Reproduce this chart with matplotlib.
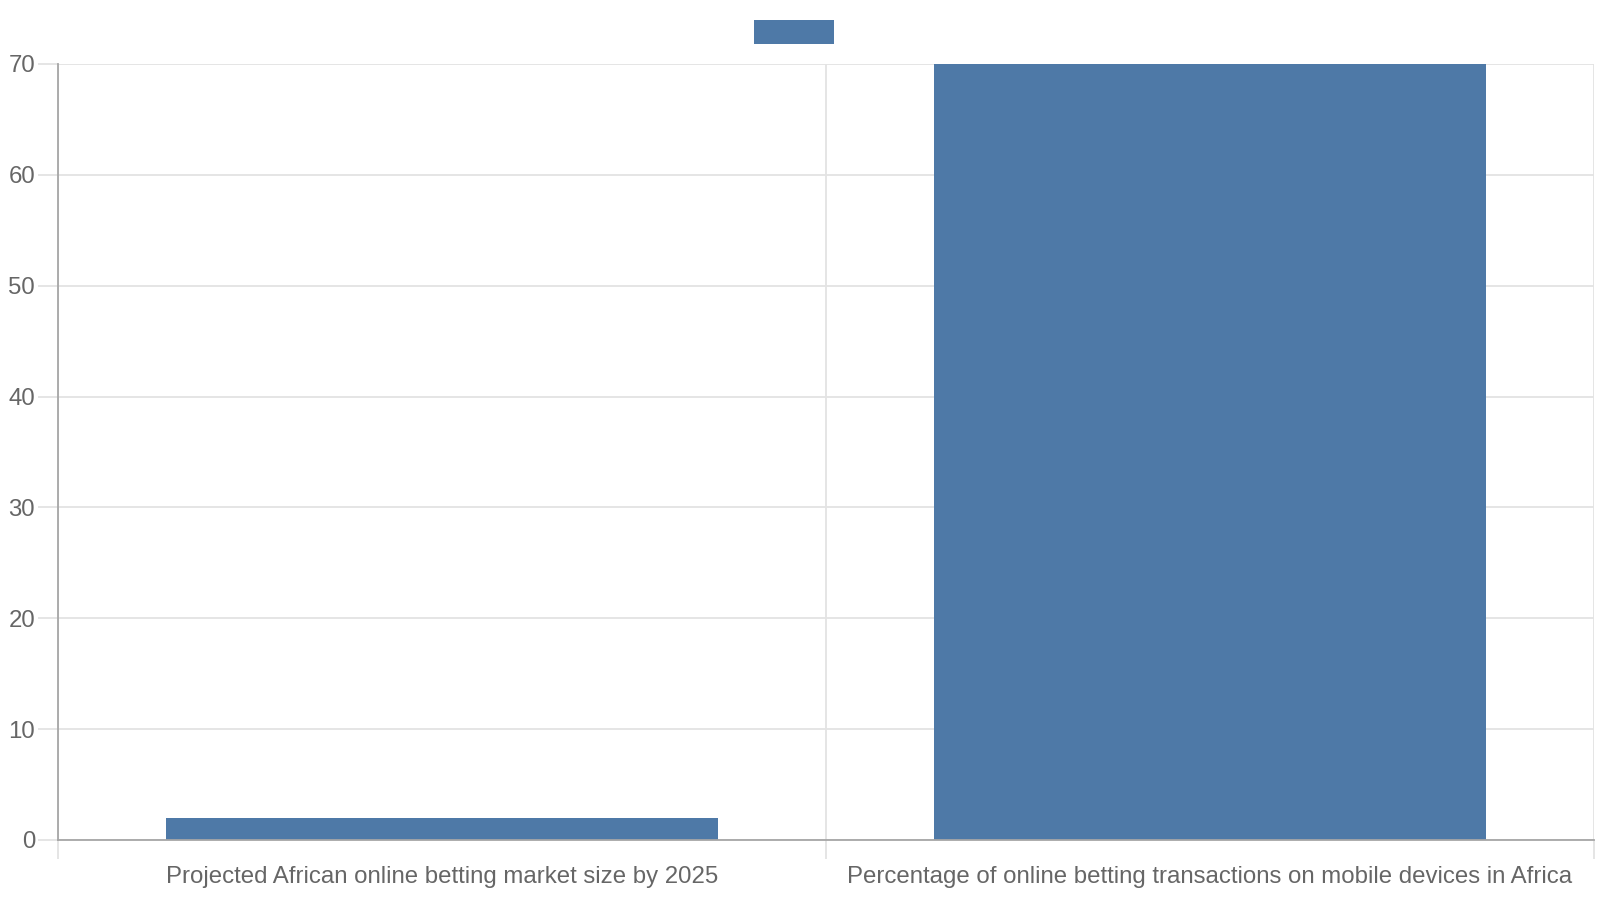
import matplotlib
matplotlib.use("Agg")
import matplotlib.pyplot as plt
from matplotlib.patches import Rectangle

categories = ["Projected African online betting market size by 2025",
              "Percentage of online betting transactions on mobile devices in Africa"]
values = [2, 70]
yticks = [0, 10, 20, 30, 40, 50, 60, 70]

BAR = "#4e79a7"
GRID = "#e3e3e3"
AXIS = "#a6a6a6"
TXT = "#666666"

plt.rcParams['font.family'] = ['Liberation Sans', 'DejaVu Sans']

fig = plt.figure(figsize=(16, 9), dpi=100)
ax = fig.add_axes([58/1600, 60/900, (1594-58)/1600, (840-64)/900])

x = list(range(len(categories)))
ax.bar(x, values, width=0.72, color=BAR, zorder=2)

ax.set_xlim(-0.5, len(categories) - 0.5)
ax.set_ylim(0, 70)
ax.set_yticks(yticks)
ax.set_xticks(x)
ax.set_xticklabels(categories)
ax.set_xticks([i - 0.5 for i in range(len(categories) + 1)], minor=True)

ax.set_axisbelow(True)
ax.grid(axis='y', color=GRID, linewidth=1.3)
ax.grid(axis='x', which='minor', color=GRID, linewidth=1.3)

ax.tick_params(axis='y', length=14.4, width=1.3, color=GRID, labelcolor=TXT,
               labelsize=17.3, pad=2)
ax.tick_params(axis='x', which='major', length=0, labelcolor=TXT,
               labelsize=17.3, pad=18.5)
ax.tick_params(axis='x', which='minor', length=14, width=1.3, color=GRID)

for s in ['top', 'right']:
    ax.spines[s].set_visible(False)
for s in ['left', 'bottom']:
    ax.spines[s].set_color(AXIS)
    ax.spines[s].set_linewidth(1.3)
    ax.spines[s].set_zorder(3)

# legend swatch (dataset has no label)
fig.patches.append(Rectangle((754/1600, (900-44)/900), 80/1600, 24/900,
                             transform=fig.transFigure, facecolor=BAR,
                             edgecolor='none'))

fig.savefig("out.png", dpi=100)
